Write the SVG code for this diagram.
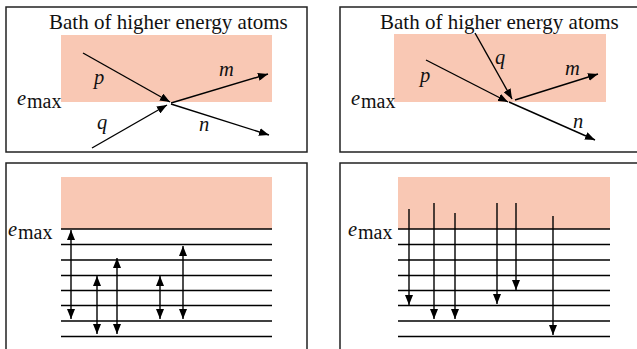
<svg xmlns="http://www.w3.org/2000/svg" width="637" height="349" viewBox="0 0 637 349">
<style>
.frame{fill:none;stroke:#222;stroke-width:1.5}
.bath{fill:#f9c8b4;stroke:none}
.lv{stroke:#000;stroke-width:1.3}
.ar{stroke:#000;stroke-width:1.4;fill:none}
text{font-family:"Liberation Serif","DejaVu Serif",serif;fill:#111}
.title{font-size:21px}
.it{font-style:italic;font-size:20.5px}
.em{font-size:20px}
</style>
<defs>
<marker id="ah" viewBox="0 0 10 8" refX="10" refY="4" markerWidth="10" markerHeight="8" markerUnits="userSpaceOnUse" orient="auto-start-reverse">
<path d="M0,0 L10,4 L0,8 Z" fill="#000"/>
</marker>
</defs>
<rect width="637" height="349" fill="#fff"/>

<g id="panel-tl">
<rect class="frame" x="6" y="7" width="301" height="145"/>
<rect class="bath" x="61" y="35" width="211" height="67"/>
<text class="title" x="49" y="29">Bath of higher energy atoms</text>
<text class="it" x="17" y="105">e</text><text class="em" x="27" y="108">max</text>
<text class="it" x="94" y="84">p</text>
<text class="it" x="219" y="76">m</text>
<text class="it" x="97" y="129">q</text>
<text class="it" x="199" y="131">n</text>
</g>

<g id="panel-tr">
<path class="frame" d="M637,7 H340 V152 H637"/>
<rect class="bath" x="394" y="34" width="212" height="68"/>
<text class="title" x="380" y="29">Bath of higher energy atoms</text>
<text class="it" x="351" y="105">e</text><text class="em" x="361" y="108">max</text>
<text class="it" x="420" y="82">p</text>
<text class="it" x="495" y="64">q</text>
<text class="it" x="565" y="75">m</text>
<text class="it" x="573" y="128">n</text>
</g>

<g id="panel-bl">
<path class="frame" d="M6,349 V163 H307 V349"/>
<rect class="bath" x="61" y="177" width="211" height="52"/>
<text class="it" x="8" y="236">e</text><text class="em" x="18" y="239">max</text>
<g id="levels-bl">
<line class="lv" x1="61" y1="229" x2="272" y2="229"/>
<line class="lv" x1="61" y1="244.5" x2="272" y2="244.5"/>
<line class="lv" x1="61" y1="260" x2="272" y2="260"/>
<line class="lv" x1="61" y1="275.5" x2="272" y2="275.5"/>
<line class="lv" x1="61" y1="290.5" x2="272" y2="290.5"/>
<line class="lv" x1="61" y1="305.5" x2="272" y2="305.5"/>
<line class="lv" x1="61" y1="321" x2="272" y2="321"/>
<line class="lv" x1="61" y1="336.5" x2="272" y2="336.5"/>
</g>
</g>

<g id="panel-br">
<path class="frame" d="M637,163 H340 V349"/>
<rect class="bath" x="398" y="177" width="212" height="52"/>
<text class="it" x="348" y="236">e</text><text class="em" x="358" y="239">max</text>
<g id="levels-br">
<line class="lv" x1="398" y1="229" x2="610" y2="229"/>
<line class="lv" x1="398" y1="244.5" x2="610" y2="244.5"/>
<line class="lv" x1="398" y1="260" x2="610" y2="260"/>
<line class="lv" x1="398" y1="275.5" x2="610" y2="275.5"/>
<line class="lv" x1="398" y1="290.5" x2="610" y2="290.5"/>
<line class="lv" x1="398" y1="305.5" x2="610" y2="305.5"/>
<line class="lv" x1="398" y1="321" x2="610" y2="321"/>
<line class="lv" x1="398" y1="336.5" x2="610" y2="336.5"/>
</g>
</g>

<g id="connectors">
<line class="ar" x1="83" y1="53" x2="170" y2="102" marker-end="url(#ah)"/>
<line class="ar" x1="171" y1="103" x2="268" y2="74" marker-end="url(#ah)"/>
<line class="ar" x1="92" y1="148" x2="167" y2="105" marker-end="url(#ah)"/>
<line class="ar" x1="171" y1="104" x2="269" y2="135" marker-end="url(#ah)"/>

<line class="ar" x1="426" y1="60" x2="508" y2="102" marker-end="url(#ah)"/>
<line class="ar" x1="475" y1="33" x2="512" y2="99" marker-end="url(#ah)"/>
<line class="ar" x1="515" y1="100" x2="598" y2="74" marker-end="url(#ah)"/>
<line class="ar" x1="509" y1="102" x2="595" y2="140" marker-end="url(#ah)"/>

<line class="ar" x1="71" y1="230" x2="71" y2="319" marker-start="url(#ah)" marker-end="url(#ah)"/>
<line class="ar" x1="97" y1="276" x2="97" y2="334" marker-start="url(#ah)" marker-end="url(#ah)"/>
<line class="ar" x1="117" y1="258" x2="117" y2="334" marker-start="url(#ah)" marker-end="url(#ah)"/>
<line class="ar" x1="160" y1="276" x2="160" y2="319" marker-start="url(#ah)" marker-end="url(#ah)"/>
<line class="ar" x1="183" y1="246" x2="183" y2="319" marker-start="url(#ah)" marker-end="url(#ah)"/>

<line class="ar" x1="409" y1="209" x2="409" y2="305" marker-end="url(#ah)"/>
<line class="ar" x1="434" y1="203" x2="434" y2="319" marker-end="url(#ah)"/>
<line class="ar" x1="455" y1="213" x2="455" y2="319" marker-end="url(#ah)"/>
<line class="ar" x1="497" y1="203" x2="497" y2="304" marker-end="url(#ah)"/>
<line class="ar" x1="516" y1="203" x2="516" y2="290" marker-end="url(#ah)"/>
<line class="ar" x1="553" y1="216" x2="553" y2="335" marker-end="url(#ah)"/>
</g>
</svg>
